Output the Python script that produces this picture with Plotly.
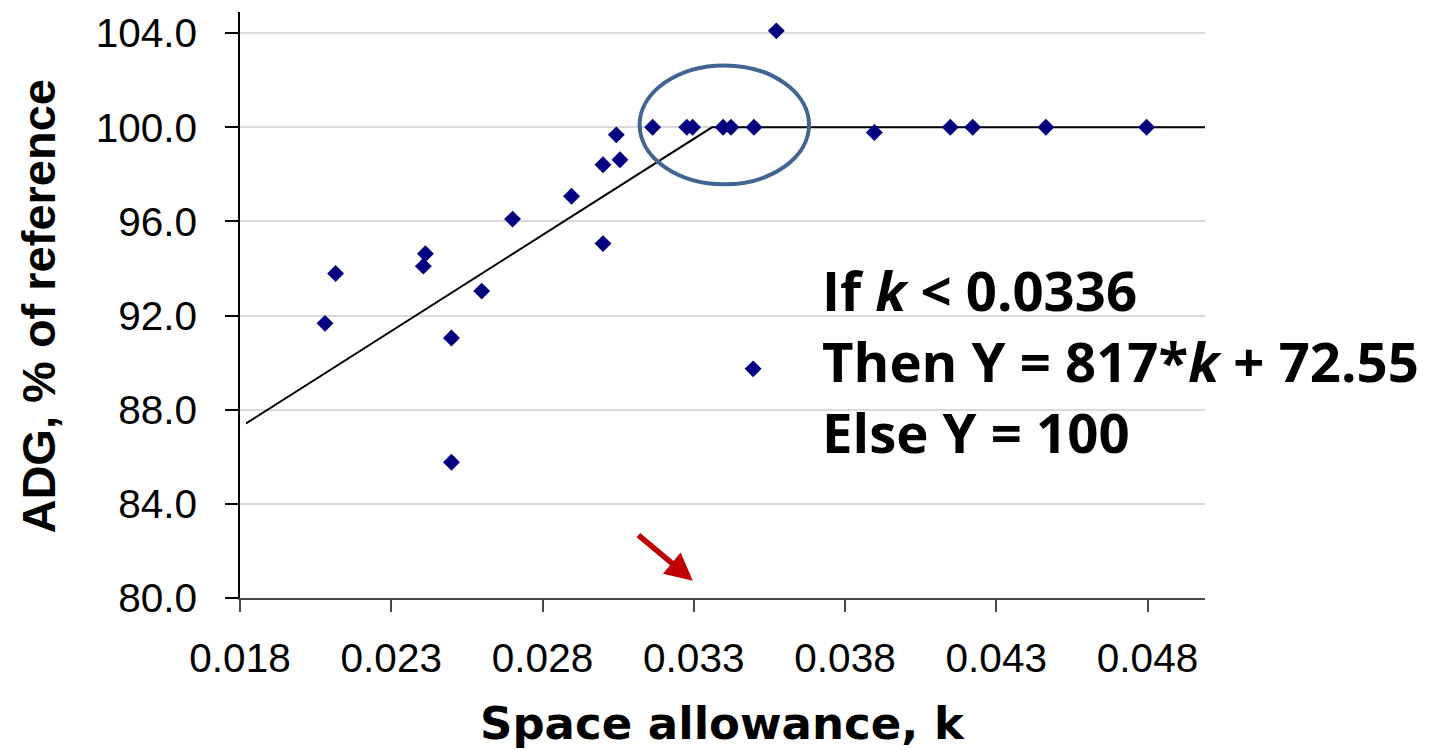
import plotly.graph_objects as go

# Observed average daily gain (ADG, % of reference) against space allowance k
space_k = [0.02081, 0.02116, 0.02406, 0.02413, 0.02499, 0.02499, 0.02599, 0.02701,
           0.02896, 0.03000, 0.03000, 0.03044, 0.03056, 0.03164, 0.03277, 0.03296,
           0.03397, 0.03423, 0.03499, 0.03573, 0.03897, 0.04148, 0.04222, 0.04464,
           0.04797]
adg_pct = [91.67, 93.79, 94.10, 94.63, 91.05, 85.77, 93.04, 96.10,
           97.07, 98.41, 95.06, 99.68, 98.62, 100.0, 100.0, 100.0,
           100.0, 100.0, 100.0, 104.1, 99.78, 100.0, 100.0, 100.0,
           100.0]

# Broken-line model: Y = slope*k + intercept below the breakpoint, plateau above
slope = 817
intercept = 72.55
breakpoint = 0.0336
plateau = 100
fit_k = [0.0182, breakpoint, 0.0502]
fit_y = [slope * k + intercept if k < breakpoint else plateau for k in fit_k]
fit_y[1] = slope * breakpoint + intercept

x_ticks = [0.018, 0.023, 0.028, 0.033, 0.038, 0.043, 0.048]
y_ticks = [80, 84, 88, 92, 96, 100, 104]

NAVY = "#000080"

fig = go.Figure()

fig.add_trace(go.Scatter(
    x=fit_k, y=fit_y, mode="lines",
    line=dict(color="black", width=2),
    showlegend=False, hoverinfo="skip",
))

fig.add_trace(go.Scatter(
    x=space_k, y=adg_pct, mode="markers",
    marker=dict(symbol="diamond", size=13, color=NAVY, line=dict(width=0)),
    name=" ", showlegend=True,
))

# Highlight around the breakpoint
fig.add_shape(
    type="circle", xref="x", yref="y",
    x0=0.03121, x1=0.03681, y0=97.58, y1=102.63,
    line=dict(color="#416592", width=4),
)

# Arrow pointing at the breakpoint on the k axis
fig.add_annotation(
    x=0.03297, y=80.73, xref="x", yref="y",
    ax=-56, ay=-47, axref="pixel", ayref="pixel",
    text="", showarrow=True,
    arrowhead=2, arrowsize=1, arrowwidth=5.5, arrowcolor="#c00000",
)

# Model equation
fig.add_annotation(
    xref="paper", yref="paper", x=0.601, y=0.404,
    xanchor="left", yanchor="middle", align="left", showarrow=False,
    text=(f"If <i>k</i> &lt; {breakpoint}<br>"
          f"Then Y = {slope}*<i>k</i> + {intercept}<br>"
          f"Else Y = {plateau}"),
    font=dict(family="Open Sans", size=54.5, color="black", weight="bold"),
)

# Axis titles
fig.add_annotation(
    xref="paper", yref="paper", x=-0.2083, y=0.4974,
    xanchor="center", yanchor="middle", textangle=-90, showarrow=False,
    text="ADG, % of reference",
    font=dict(family="Liberation Sans", size=47, color="black", weight="bold"),
)
fig.add_annotation(
    xref="paper", yref="paper", x=0.5005, y=-0.2134,
    xanchor="center", yanchor="middle", showarrow=False,
    text="Space allowance, k",
    font=dict(family="DejaVu Sans", size=45, color="black", weight="bold"),
)

fig.update_xaxes(
    range=[0.018, 0.0499],
    tickvals=x_ticks, ticktext=[f"{v:.3f}" for v in x_ticks],
    showgrid=False, zeroline=False,
    showline=True, linecolor="#4a4a4a", linewidth=2,
    ticks="outside", ticklen=12, tickwidth=1.5, tickcolor="#4a4a4a",
    ticklabelstandoff=11,
    tickfont=dict(family="Liberation Sans", size=40.5, color="black"),
)
fig.update_yaxes(
    range=[80, 104.9],
    tickvals=y_ticks, ticktext=[f"{v:.1f}" for v in y_ticks],
    showgrid=True, gridcolor="#d9d9d9", gridwidth=2, zeroline=False,
    showline=True, linecolor="black", linewidth=1.5,
    ticks="outside", ticklen=13, tickwidth=1.5, tickcolor="black",
    ticklabelstandoff=20,
    tickfont=dict(family="Liberation Sans", size=40.5, color="black"),
)

fig.update_layout(
    width=1437, height=750,
    margin=dict(l=240, r=232, t=10, b=152),
    paper_bgcolor="white", plot_bgcolor="white",
    legend=dict(
        x=0.511, y=0.391, xanchor="left", yanchor="middle",
        bgcolor="rgba(0,0,0,0)", font=dict(size=10),
        itemsizing="trace",
    ),
)

fig.write_html("out.html")
